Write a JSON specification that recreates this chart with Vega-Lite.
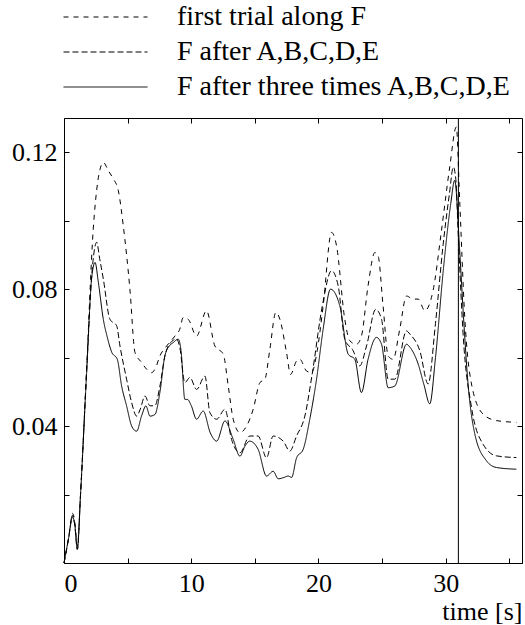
{
  "$schema": "https://vega.github.io/schema/vega-lite/v6.json",
  "autosize": {"type": "none"},
  "padding": {"left": 64, "top": 118, "right": 3, "bottom": 62},
  "width": 458,
  "height": 445,
  "config": {
    "view": {"stroke": "black", "strokeWidth": 1},
    "font": "Liberation Serif",
    "text": {"font": "Liberation Serif"},
    "axis": {"domain": false, "grid": false, "tickColor": "black", "tickSize": -5, "labelColor": "black", "labelFont": "Liberation Serif", "labelFontSize": 26, "titleFont": "Liberation Serif", "titleFontSize": 26, "titleFontWeight": "normal", "titleColor": "black"},
    "legend": {"labelFont": "Liberation Serif"}
  },
  "layer": [
    {
      "data": {"values": [
        {"s":"first trial along F","t":0,"v":0},{"s":"first trial along F","t":0.35,"v":0.007},{"s":"first trial along F","t":0.68,"v":0.0145},{"s":"first trial along F","t":0.85,"v":0.012},{"s":"first trial along F","t":1.05,"v":0.005},{"s":"first trial along F","t":1.3,"v":0.02},{"s":"first trial along F","t":1.78,"v":0.057},{"s":"first trial along F","t":2.3,"v":0.0976},{"s":"first trial along F","t":2.57,"v":0.109},{"s":"first trial along F","t":2.83,"v":0.115},{"s":"first trial along F","t":3.09,"v":0.117},{"s":"first trial along F","t":3.5,"v":0.1145},{"s":"first trial along F","t":3.88,"v":0.1122},{"s":"first trial along F","t":4.27,"v":0.1088},{"s":"first trial along F","t":4.66,"v":0.0985},{"s":"first trial along F","t":5.18,"v":0.08},{"s":"first trial along F","t":5.58,"v":0.0615},{"s":"first trial along F","t":6.1,"v":0.0586},{"s":"first trial along F","t":6.5,"v":0.0566},{"s":"first trial along F","t":6.89,"v":0.0556},{"s":"first trial along F","t":7.2,"v":0.057},{"s":"first trial along F","t":7.54,"v":0.0605},{"s":"first trial along F","t":8.07,"v":0.0634},{"s":"first trial along F","t":8.72,"v":0.0663},{"s":"first trial along F","t":9.1,"v":0.0683},{"s":"first trial along F","t":9.37,"v":0.0717},{"s":"first trial along F","t":9.76,"v":0.0712},{"s":"first trial along F","t":10.42,"v":0.0663},{"s":"first trial along F","t":11.2,"v":0.0737},{"s":"first trial along F","t":11.86,"v":0.0634},{"s":"first trial along F","t":12.52,"v":0.061},{"s":"first trial along F","t":12.91,"v":0.0517},{"s":"first trial along F","t":13.3,"v":0.042},{"s":"first trial along F","t":13.83,"v":0.0381},{"s":"first trial along F","t":14.35,"v":0.04},{"s":"first trial along F","t":14.87,"v":0.0449},{"s":"first trial along F","t":15.4,"v":0.0527},{"s":"first trial along F","t":15.79,"v":0.0537},{"s":"first trial along F","t":16.18,"v":0.0624},{"s":"first trial along F","t":16.65,"v":0.0732},{"s":"first trial along F","t":16.97,"v":0.0712},{"s":"first trial along F","t":17.49,"v":0.0615},{"s":"first trial along F","t":17.81,"v":0.0551},{"s":"first trial along F","t":18.28,"v":0.059},{"s":"first trial along F","t":18.54,"v":0.0595},{"s":"first trial along F","t":19.06,"v":0.0561},{"s":"first trial along F","t":19.46,"v":0.0556},{"s":"first trial along F","t":19.9,"v":0.062},{"s":"first trial along F","t":20.37,"v":0.0751},{"s":"first trial along F","t":21.03,"v":0.0966},{"s":"first trial along F","t":21.42,"v":0.0927},{"s":"first trial along F","t":22.07,"v":0.0712},{"s":"first trial along F","t":22.47,"v":0.0649},{"s":"first trial along F","t":22.99,"v":0.0639},{"s":"first trial along F","t":23.38,"v":0.0663},{"s":"first trial along F","t":23.9,"v":0.081},{"s":"first trial along F","t":24.43,"v":0.0907},{"s":"first trial along F","t":24.69,"v":0.0897},{"s":"first trial along F","t":25.08,"v":0.0751},{"s":"first trial along F","t":25.48,"v":0.0605},{"s":"first trial along F","t":25.87,"v":0.0595},{"s":"first trial along F","t":26.39,"v":0.0683},{"s":"first trial along F","t":26.92,"v":0.078},{"s":"first trial along F","t":27.44,"v":0.0771},{"s":"first trial along F","t":27.84,"v":0.0771},{"s":"first trial along F","t":28.36,"v":0.0737},{"s":"first trial along F","t":29.01,"v":0.0796},{"s":"first trial along F","t":29.67,"v":0.0971},{"s":"first trial along F","t":30.32,"v":0.1157},{"s":"first trial along F","t":30.84,"v":0.1274},{"s":"first trial along F","t":31.1,"v":0.106},{"s":"first trial along F","t":31.5,"v":0.0718},{"s":"first trial along F","t":32.03,"v":0.0523},{"s":"first trial along F","t":32.94,"v":0.0435},{"s":"first trial along F","t":33.99,"v":0.0416},{"s":"first trial along F","t":35.56,"v":0.0411},
        {"s":"F after A,B,C,D,E","t":0,"v":0},{"s":"F after A,B,C,D,E","t":0.35,"v":0.007},{"s":"F after A,B,C,D,E","t":0.68,"v":0.014},{"s":"F after A,B,C,D,E","t":0.85,"v":0.011},{"s":"F after A,B,C,D,E","t":1.05,"v":0.004},{"s":"F after A,B,C,D,E","t":1.3,"v":0.02},{"s":"F after A,B,C,D,E","t":1.78,"v":0.056},{"s":"F after A,B,C,D,E","t":2.2,"v":0.085},{"s":"F after A,B,C,D,E","t":2.57,"v":0.0937},{"s":"F after A,B,C,D,E","t":2.8,"v":0.089},{"s":"F after A,B,C,D,E","t":3.09,"v":0.083},{"s":"F after A,B,C,D,E","t":3.61,"v":0.0712},{"s":"F after A,B,C,D,E","t":4.14,"v":0.0693},{"s":"F after A,B,C,D,E","t":4.4,"v":0.0634},{"s":"F after A,B,C,D,E","t":4.92,"v":0.0537},{"s":"F after A,B,C,D,E","t":5.32,"v":0.0468},{"s":"F after A,B,C,D,E","t":5.71,"v":0.0429},{"s":"F after A,B,C,D,E","t":6.0,"v":0.045},{"s":"F after A,B,C,D,E","t":6.36,"v":0.0488},{"s":"F after A,B,C,D,E","t":6.76,"v":0.0459},{"s":"F after A,B,C,D,E","t":7.15,"v":0.046},{"s":"F after A,B,C,D,E","t":7.54,"v":0.0517},{"s":"F after A,B,C,D,E","t":7.93,"v":0.0605},{"s":"F after A,B,C,D,E","t":8.3,"v":0.064},{"s":"F after A,B,C,D,E","t":8.85,"v":0.0654},{"s":"F after A,B,C,D,E","t":9.1,"v":0.063},{"s":"F after A,B,C,D,E","t":9.5,"v":0.0527},{"s":"F after A,B,C,D,E","t":9.9,"v":0.0542},{"s":"F after A,B,C,D,E","t":10.42,"v":0.0507},{"s":"F after A,B,C,D,E","t":11.08,"v":0.0546},{"s":"F after A,B,C,D,E","t":11.47,"v":0.0439},{"s":"F after A,B,C,D,E","t":12.0,"v":0.042},{"s":"F after A,B,C,D,E","t":12.65,"v":0.0449},{"s":"F after A,B,C,D,E","t":13.17,"v":0.0361},{"s":"F after A,B,C,D,E","t":13.83,"v":0.0322},{"s":"F after A,B,C,D,E","t":14.6,"v":0.0371},{"s":"F after A,B,C,D,E","t":15.26,"v":0.0371},{"s":"F after A,B,C,D,E","t":15.92,"v":0.0307},{"s":"F after A,B,C,D,E","t":16.44,"v":0.0371},{"s":"F after A,B,C,D,E","t":17.23,"v":0.0356},{"s":"F after A,B,C,D,E","t":17.75,"v":0.0327},{"s":"F after A,B,C,D,E","t":18.28,"v":0.0371},{"s":"F after A,B,C,D,E","t":18.93,"v":0.0429},{"s":"F after A,B,C,D,E","t":19.5,"v":0.055},{"s":"F after A,B,C,D,E","t":20.3,"v":0.075},{"s":"F after A,B,C,D,E","t":21.03,"v":0.0854},{"s":"F after A,B,C,D,E","t":21.55,"v":0.081},{"s":"F after A,B,C,D,E","t":22.07,"v":0.0654},{"s":"F after A,B,C,D,E","t":22.73,"v":0.062},{"s":"F after A,B,C,D,E","t":23.25,"v":0.0576},{"s":"F after A,B,C,D,E","t":23.78,"v":0.0634},{"s":"F after A,B,C,D,E","t":24.5,"v":0.0741},{"s":"F after A,B,C,D,E","t":24.96,"v":0.0712},{"s":"F after A,B,C,D,E","t":25.48,"v":0.0537},{"s":"F after A,B,C,D,E","t":26.0,"v":0.0537},{"s":"F after A,B,C,D,E","t":26.92,"v":0.0678},{"s":"F after A,B,C,D,E","t":27.18,"v":0.0669},{"s":"F after A,B,C,D,E","t":27.97,"v":0.062},{"s":"F after A,B,C,D,E","t":28.62,"v":0.0523},{"s":"F after A,B,C,D,E","t":29.2,"v":0.07},{"s":"F after A,B,C,D,E","t":29.8,"v":0.093},{"s":"F after A,B,C,D,E","t":30.3,"v":0.108},{"s":"F after A,B,C,D,E","t":30.6,"v":0.1157},{"s":"F after A,B,C,D,E","t":30.8,"v":0.112},{"s":"F after A,B,C,D,E","t":31.0,"v":0.095},{"s":"F after A,B,C,D,E","t":31.37,"v":0.0669},{"s":"F after A,B,C,D,E","t":32.03,"v":0.0455},{"s":"F after A,B,C,D,E","t":32.94,"v":0.0347},{"s":"F after A,B,C,D,E","t":33.99,"v":0.0313},{"s":"F after A,B,C,D,E","t":35.56,"v":0.0308},
        {"s":"F after three times A,B,C,D,E","t":0,"v":0},{"s":"F after three times A,B,C,D,E","t":0.35,"v":0.007},{"s":"F after three times A,B,C,D,E","t":0.68,"v":0.0135},{"s":"F after three times A,B,C,D,E","t":0.85,"v":0.011},{"s":"F after three times A,B,C,D,E","t":1.05,"v":0.004},{"s":"F after three times A,B,C,D,E","t":1.3,"v":0.02},{"s":"F after three times A,B,C,D,E","t":1.78,"v":0.0557},{"s":"F after three times A,B,C,D,E","t":2.17,"v":0.083},{"s":"F after three times A,B,C,D,E","t":2.44,"v":0.0878},{"s":"F after three times A,B,C,D,E","t":2.7,"v":0.082},{"s":"F after three times A,B,C,D,E","t":3.09,"v":0.0712},{"s":"F after three times A,B,C,D,E","t":3.4,"v":0.066},{"s":"F after three times A,B,C,D,E","t":3.75,"v":0.0616},{"s":"F after three times A,B,C,D,E","t":4.19,"v":0.0595},{"s":"F after three times A,B,C,D,E","t":4.53,"v":0.0517},{"s":"F after three times A,B,C,D,E","t":4.92,"v":0.0459},{"s":"F after three times A,B,C,D,E","t":5.32,"v":0.04},{"s":"F after three times A,B,C,D,E","t":5.71,"v":0.0385},{"s":"F after three times A,B,C,D,E","t":6.1,"v":0.043},{"s":"F after three times A,B,C,D,E","t":6.44,"v":0.0459},{"s":"F after three times A,B,C,D,E","t":6.76,"v":0.0429},{"s":"F after three times A,B,C,D,E","t":7.15,"v":0.0434},{"s":"F after three times A,B,C,D,E","t":7.54,"v":0.0499},{"s":"F after three times A,B,C,D,E","t":7.93,"v":0.0605},{"s":"F after three times A,B,C,D,E","t":8.3,"v":0.0635},{"s":"F after three times A,B,C,D,E","t":8.59,"v":0.0644},{"s":"F after three times A,B,C,D,E","t":8.98,"v":0.0654},{"s":"F after three times A,B,C,D,E","t":9.2,"v":0.062},{"s":"F after three times A,B,C,D,E","t":9.5,"v":0.0478},{"s":"F after three times A,B,C,D,E","t":9.7,"v":0.0478},{"s":"F after three times A,B,C,D,E","t":10.0,"v":0.046},{"s":"F after three times A,B,C,D,E","t":10.42,"v":0.042},{"s":"F after three times A,B,C,D,E","t":10.94,"v":0.0444},{"s":"F after three times A,B,C,D,E","t":11.5,"v":0.038},{"s":"F after three times A,B,C,D,E","t":12.0,"v":0.0356},{"s":"F after three times A,B,C,D,E","t":12.65,"v":0.0415},{"s":"F after three times A,B,C,D,E","t":13.3,"v":0.0361},{"s":"F after three times A,B,C,D,E","t":13.83,"v":0.0312},{"s":"F after three times A,B,C,D,E","t":14.2,"v":0.034},{"s":"F after three times A,B,C,D,E","t":14.6,"v":0.0356},{"s":"F after three times A,B,C,D,E","t":15.26,"v":0.0332},{"s":"F after three times A,B,C,D,E","t":15.92,"v":0.0254},{"s":"F after three times A,B,C,D,E","t":16.44,"v":0.0268},{"s":"F after three times A,B,C,D,E","t":16.84,"v":0.0246},{"s":"F after three times A,B,C,D,E","t":17.3,"v":0.025},{"s":"F after three times A,B,C,D,E","t":17.62,"v":0.0254},{"s":"F after three times A,B,C,D,E","t":17.89,"v":0.025},{"s":"F after three times A,B,C,D,E","t":18.28,"v":0.0307},{"s":"F after three times A,B,C,D,E","t":18.8,"v":0.0332},{"s":"F after three times A,B,C,D,E","t":19.32,"v":0.042},{"s":"F after three times A,B,C,D,E","t":19.85,"v":0.0537},{"s":"F after three times A,B,C,D,E","t":20.37,"v":0.0683},{"s":"F after three times A,B,C,D,E","t":20.95,"v":0.08},{"s":"F after three times A,B,C,D,E","t":21.68,"v":0.0751},{"s":"F after three times A,B,C,D,E","t":22.34,"v":0.061},{"s":"F after three times A,B,C,D,E","t":22.86,"v":0.0595},{"s":"F after three times A,B,C,D,E","t":23.38,"v":0.0498},{"s":"F after three times A,B,C,D,E","t":23.9,"v":0.0595},{"s":"F after three times A,B,C,D,E","t":24.56,"v":0.0659},{"s":"F after three times A,B,C,D,E","t":24.96,"v":0.0639},{"s":"F after three times A,B,C,D,E","t":25.48,"v":0.0512},{"s":"F after three times A,B,C,D,E","t":26.0,"v":0.0517},{"s":"F after three times A,B,C,D,E","t":26.92,"v":0.0639},{"s":"F after three times A,B,C,D,E","t":27.2,"v":0.063},{"s":"F after three times A,B,C,D,E","t":27.84,"v":0.0581},{"s":"F after three times A,B,C,D,E","t":28.3,"v":0.052},{"s":"F after three times A,B,C,D,E","t":28.75,"v":0.0465},{"s":"F after three times A,B,C,D,E","t":29.2,"v":0.06},{"s":"F after three times A,B,C,D,E","t":29.8,"v":0.085},{"s":"F after three times A,B,C,D,E","t":30.4,"v":0.105},{"s":"F after three times A,B,C,D,E","t":30.71,"v":0.1118},{"s":"F after three times A,B,C,D,E","t":31.1,"v":0.0914},{"s":"F after three times A,B,C,D,E","t":31.4,"v":0.072},{"s":"F after three times A,B,C,D,E","t":31.76,"v":0.0523},{"s":"F after three times A,B,C,D,E","t":32.29,"v":0.0377},{"s":"F after three times A,B,C,D,E","t":33.2,"v":0.0299},{"s":"F after three times A,B,C,D,E","t":33.99,"v":0.0279},{"s":"F after three times A,B,C,D,E","t":35.56,"v":0.0274}
      ]},
      "mark": {"type": "line", "color": "black", "strokeWidth": 1, "interpolate": "monotone"},
      "encoding": {
        "x": {"field": "t", "type": "quantitative", "scale": {"domain": [0, 36], "nice": false, "zero": false},
              "axis": {"orient": "bottom", "values": [0,5,10,15,20,25,30,35], "labelExpr": "datum.value % 10 === 0 ? datum.label : ''", "labelFont": "Liberation Serif", "labelFontSize": 26, "labelPadding": 12, "title": "time [s]", "titleFont": "Liberation Serif", "titleFontSize": 26, "titleFontWeight": "normal", "titleAnchor": "end", "titleAlign": "right", "titlePadding": 2}},
        "y": {"field": "v", "type": "quantitative", "scale": {"domain": [0, 0.13], "nice": false},
              "axis": {"orient": "left", "values": [0,0.02,0.04,0.06,0.08,0.1,0.12], "labelExpr": "(datum.value == 0.04 || datum.value == 0.08 || datum.value == 0.12) ? format(datum.value, '.2f') : ''", "labelFont": "Liberation Serif", "labelFontSize": 26, "labelPadding": 12, "title": null}},
        "strokeDash": {"field": "s", "type": "nominal",
          "scale": {"domain": ["first trial along F", "F after A,B,C,D,E", "F after three times A,B,C,D,E"], "range": [[5,5],[6,3],[1,0]]},
          "legend": {"orient": "none", "legendX": -1, "legendY": -111, "title": null, "symbolType": "stroke", "symbolSize": 7056, "symbolStrokeWidth": 1, "symbolStrokeColor": "black", "labelFont": "Liberation Serif", "labelFontSize": 28, "labelColor": "black", "labelOffset": 29, "labelLimit": 400, "clipHeight": 20, "rowPadding": 7, "padding": 0}}
      }
    },
    {
      "data": {"values": [{"t": 31, "lo": 0, "hi": 0.13}]},
      "mark": {"type": "rule", "color": "black", "strokeWidth": 1},
      "encoding": {
        "x": {"field": "t", "type": "quantitative", "axis": {"orient": "top", "values": [0,5,10,15,20,25,30,35], "labels": false, "title": null}},
        "y": {"field": "lo", "type": "quantitative", "axis": {"orient": "right", "values": [0,0.02,0.04,0.06,0.08,0.1,0.12], "labels": false, "title": null}},
        "y2": {"field": "hi"}
      }
    }
  ],
  "resolve": {"axis": {"x": "independent", "y": "independent"}}
}
